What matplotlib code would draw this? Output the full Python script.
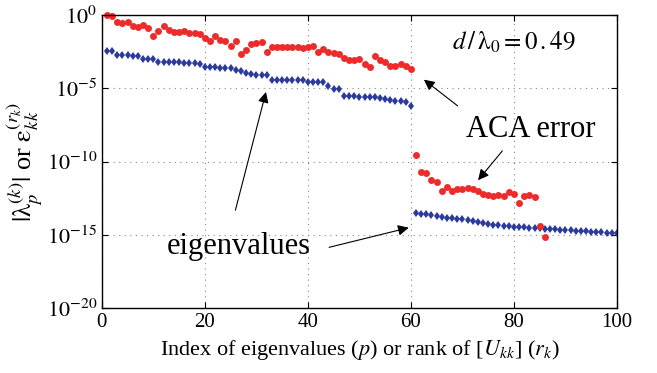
import numpy as np
import matplotlib
matplotlib.use('Agg')
import matplotlib.pyplot as plt
from matplotlib.ticker import FixedLocator, FuncFormatter

plt.rcParams['font.family'] = ['Liberation Serif', 'DejaVu Serif']
plt.rcParams['mathtext.fontset'] = 'stix'

# log10 of |lambda_p|, p = 1..100
eig_log = [-2.45, -2.45, -2.74, -2.74, -2.74, -2.78, -2.82, -3.01, -3.01, -3.01,
           -3.2, -3.2, -3.22, -3.22, -3.24, -3.26, -3.28, -3.3, -3.38, -3.54,
           -3.57, -3.57, -3.6, -3.62, -3.64, -3.77, -3.84, -3.93, -4.02, -4.09,
           -4.13, -4.13, -4.43, -4.43, -4.43, -4.43, -4.43, -4.43, -4.45, -4.57,
           -4.6, -4.6, -4.6, -4.88, -5.02, -5.06, -5.53, -5.56, -5.56, -5.58,
           -5.58, -5.6, -5.62, -5.65, -5.75, -5.8, -5.84, -5.88, -5.96, -6.21,
           -13.51, -13.55, -13.6, -13.66, -13.72, -13.78, -13.83, -13.87, -13.91, -13.95,
           -14.0, -14.06, -14.12, -14.18, -14.25, -14.3, -14.35, -14.4, -14.42, -14.44,
           -14.47, -14.5, -14.52, -14.54, -14.56, -14.58, -14.6, -14.62, -14.65, -14.68,
           -14.7, -14.72, -14.75, -14.77, -14.8, -14.82, -14.84, -14.85, -14.87, -14.88]

# log10 of ACA error, r_k = 1..86
aca_log = [0.0, -0.09, -0.46, -0.55, -0.5, -0.77, -0.84, -0.68, -0.91, -1.42,
           -1.07, -0.77, -1.0, -1.19, -1.19, -1.07, -1.26, -1.26, -1.3, -1.6,
           -1.76, -1.46, -1.69, -1.8, -2.1, -1.78, -2.67, -2.37, -1.99, -1.92,
           -1.88, -2.56, -2.21, -2.21, -2.21, -2.21, -2.21, -2.21, -2.24, -2.21,
           -2.1, -2.56, -2.33, -2.56, -2.58, -2.67, -2.97, -3.1, -3.05, -3.0,
           -3.36, -3.58, -2.83, -3.1, -3.2, -3.5, -3.5, -3.36, -3.5, -3.7,
           -9.59, -10.71, -10.75, -11.23, -11.39, -11.99, -11.73, -11.99, -11.87, -11.85,
           -11.8, -11.87, -12.03, -12.19, -12.3, -12.37, -12.26, -12.37, -12.1, -12.19,
           -12.83, -12.37, -12.26, -12.4, -14.43, -15.16]

p = np.arange(1, len(eig_log) + 1)
r = np.arange(1, len(aca_log) + 1)
eig = 10.0 ** np.array(eig_log)
aca = 10.0 ** np.array(aca_log)

fig = plt.figure(figsize=(6.57, 3.73), dpi=100)
ax = fig.add_axes([0.155, 0.174, 0.784, 0.786])

ax.semilogy(p, eig, 'd', color='#2b3a9c', markersize=4.5, markeredgewidth=0)
ax.semilogy(r, aca, 'o', color='#ee2b2b', markersize=5, markeredgewidth=0, clip_on=False)

ax.set_xlim(0, 100)
ax.set_ylim(1e-20, 1)
ax.xaxis.set_major_locator(FixedLocator([0, 20, 40, 60, 80, 100]))
ax.yaxis.set_major_locator(FixedLocator([1e-20, 1e-15, 1e-10, 1e-5, 1]))
ax.yaxis.set_minor_locator(FixedLocator([]))
ax.yaxis.set_major_formatter(FuncFormatter(lambda v, pos: r'$10^{%d}$' % round(np.log10(v))))
ax.grid(True, which='major', linestyle=(0, (1, 4)), color='#888888', linewidth=0.8)
ax.tick_params(direction='in', top=True, right=True, labelsize=15, length=4)
ax.tick_params(axis='y', labelsize=16)
for s in ax.spines.values():
    s.set_linewidth(1.0)

ax.set_xlabel(r'Index of eigenvalues ($p$) or rank of [$U_{kk}$] ($r_k$)', fontsize=16)
ax.set_ylabel(r'$|\mathrm{λ}_p^{(k)}|$ or $\mathrm{ε}_{kk}^{(r_k)}$', fontsize=19)
ax.yaxis.set_label_coords(-0.11, 0.5)

ax.text(80, 10 ** -1.85, r'$d\,/\,\mathrm{λ}_0 = 0\,.49$', fontsize=18, ha='center', va='center')
ax.text(83.3, 10 ** -7.8, 'ACA error', fontsize=22, ha='center', va='center')
ax.text(26.6, 10 ** -15.8, 'eigenvalues', fontsize=22, ha='center', va='center')

arrow = dict(arrowstyle='-|>', color='black', lw=0.8, mutation_scale=16)
ax.annotate('', xy=(62.1, 10 ** -4.3), xytext=(69.5, 10 ** -6.32), arrowprops=arrow)
ax.annotate('', xy=(72.7, 10 ** -11.42), xytext=(78.1, 10 ** -9.13), arrowprops=arrow)
ax.annotate('', xy=(32.0, 10 ** -5.07), xytext=(25.8, 10 ** -13.5), arrowprops=arrow)
ax.annotate('', xy=(60.1, 10 ** -14.47), xytext=(43.6, 10 ** -15.9), arrowprops=arrow)

fig.savefig('out.png', dpi=100)
